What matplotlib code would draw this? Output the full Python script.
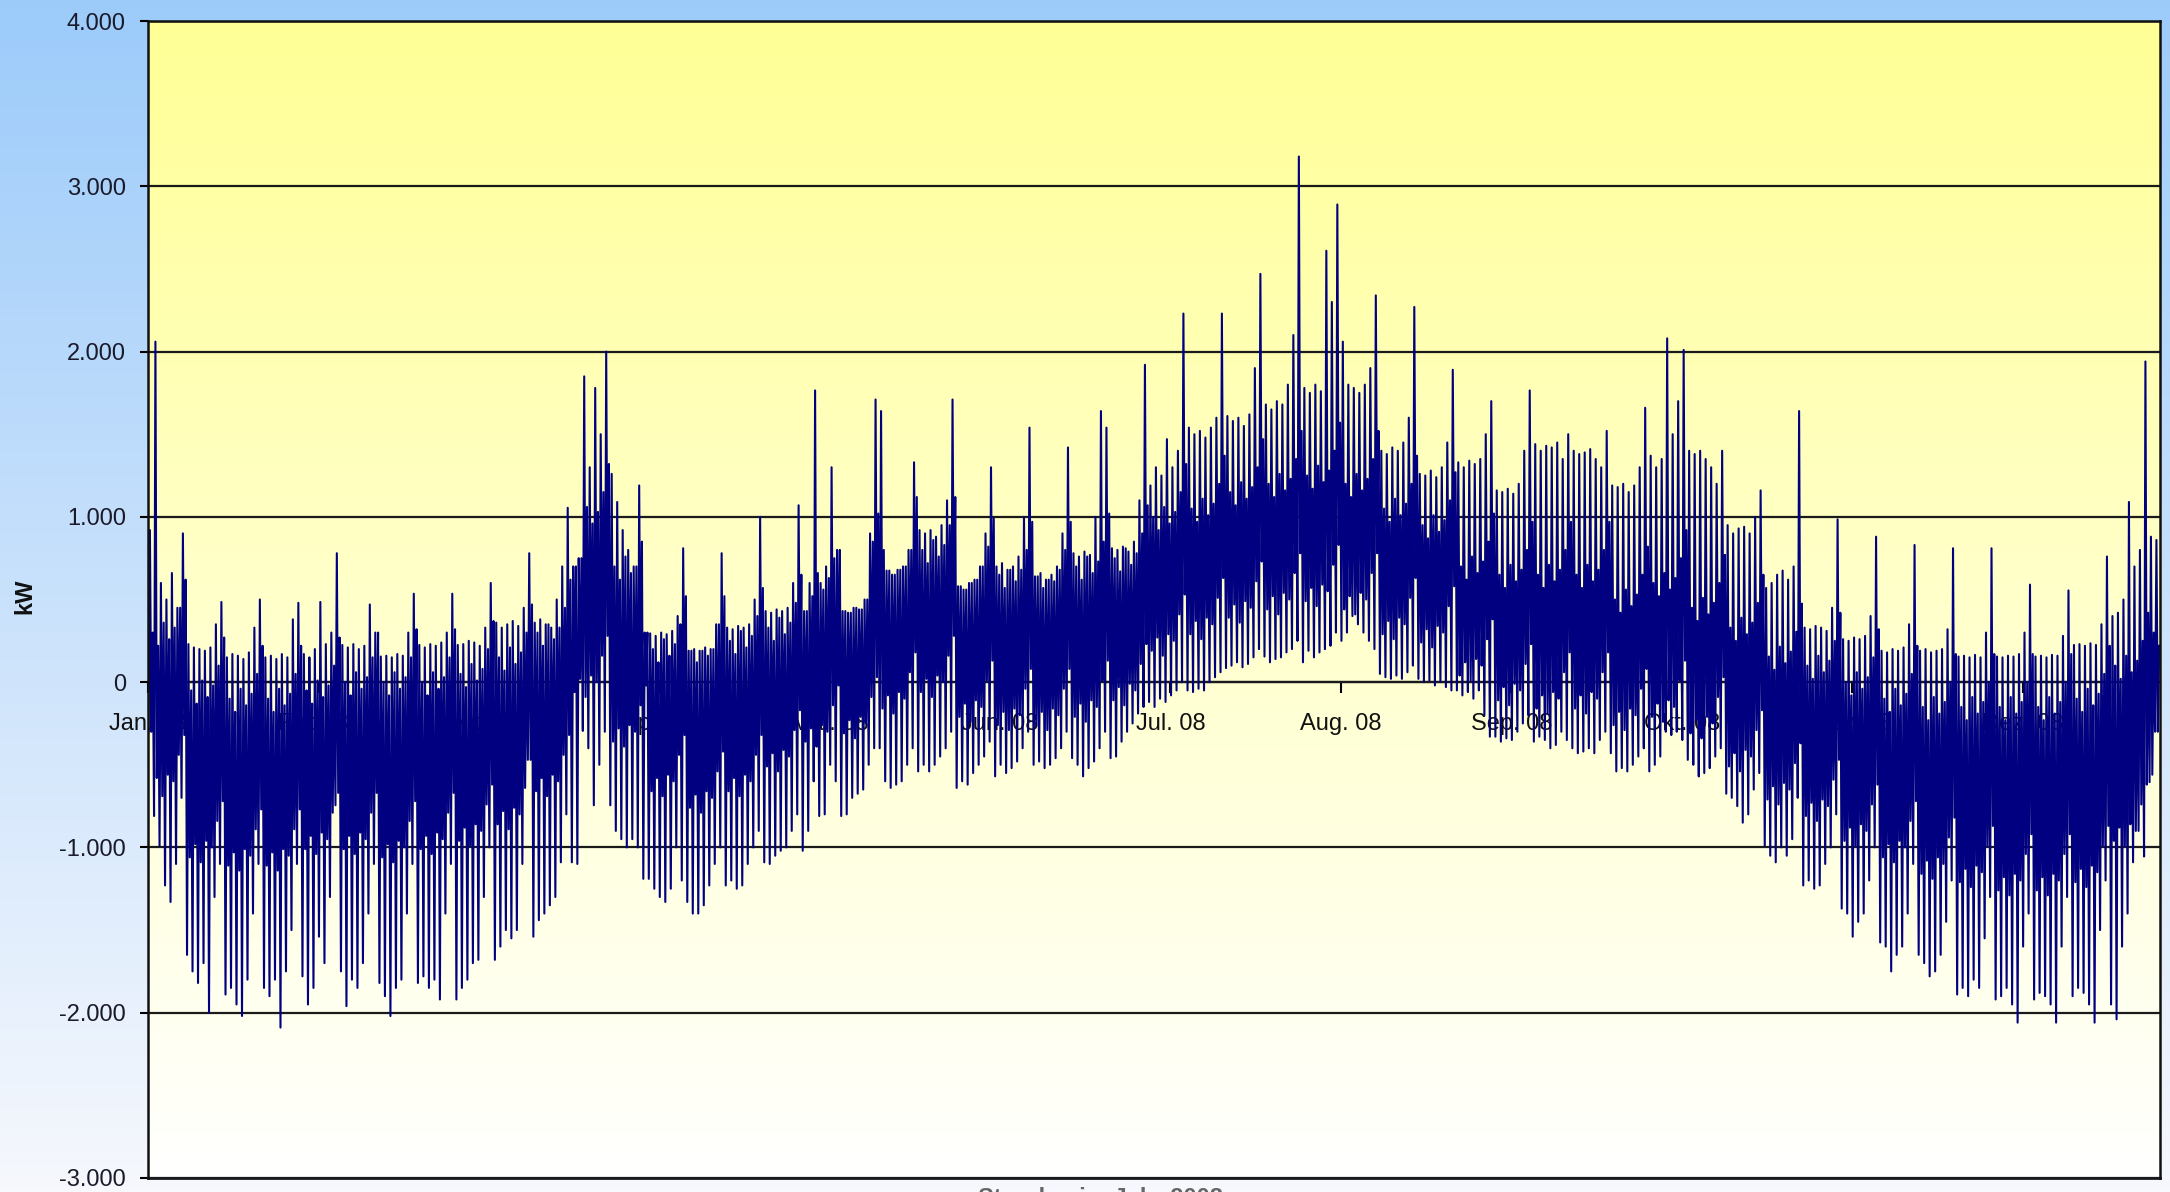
import numpy as np
import matplotlib
matplotlib.use("Agg")
import matplotlib.pyplot as plt
from matplotlib.ticker import FuncFormatter

plt.rcParams['font.family'] = ['Liberation Sans', 'DejaVu Sans']

# daily maximum (kW), one row per week, day 0 = 1 Jan 2008
daily_max = [
    920, 2060, 600, 500, 660, 450, 900,
    230, 210, 200, 190, 210, 350, 485,
    150, 170, 160, 140, 180, 330, 500,
    150, 160, 140, 170, 150, 380, 480,
    170, 150, 200, 485, 230, 300, 780,
    225, 210, 230, 200, 220, 470, 300,
    155, 160, 150, 170, 160, 300, 535,
    225, 210, 230, 220, 240, 300, 535,
    225, 230, 250, 240, 220, 330, 600,
    360, 330, 350, 370, 340, 450, 780,
    360, 380, 350, 330, 500, 700, 1055,
    700, 750, 1850, 1300, 1780, 1500, 2000,
    1260, 1090, 920, 800, 700, 1190, 300,
    295, 280, 300, 290, 310, 400, 810,
    190, 200, 190, 210, 200, 350, 780,
    330, 320, 340, 330, 350, 500, 1000,
    430, 420, 440, 430, 450, 600, 1070,
    430, 600, 1765, 600, 700, 1300, 800,
    430, 420, 450, 440, 500, 900, 1710,
    1640, 675, 650, 680, 700, 800, 1330,
    920, 900, 920, 880, 950, 1100, 1710,
    580, 560, 600, 620, 700, 900, 1300,
    700, 720, 680, 700, 760, 1000, 1540,
    640, 660, 620, 650, 700, 900, 1420,
    780, 760, 790, 770, 1000, 1640, 1540,
    810, 800, 820, 790, 850, 1100, 1920,
    1190, 1300, 1250, 1470, 1300, 1400, 2230,
    1540, 1500, 1520, 1480, 1540, 1600, 2230,
    1610, 1580, 1600, 1550, 1620, 1900, 2470,
    1680, 1650, 1700, 1680, 1800, 2100, 3180,
    1780, 1750, 1800, 1760, 2610, 2300, 2890,
    2060, 1800, 1780, 1750, 1800, 1900, 2340,
    1400, 1380, 1420, 1400, 1450, 1600, 2270,
    1260, 1250, 1280, 1240, 1300, 1450, 1890,
    1330, 1300, 1340, 1320, 1350, 1500, 1700,
    1160, 1150, 1170, 1140, 1200, 1400, 1765,
    1440, 1400, 1430, 1420, 1450, 1350, 1500,
    1400, 1380, 1390, 1410, 1350, 1300, 1520,
    1190, 1180, 1200, 1150, 1190, 1300, 1660,
    1370, 1300, 1350, 2080, 1500, 1700, 2010,
    1400, 1380, 1400, 1350, 1300, 1200, 1400,
    950, 900, 930, 940, 900, 1000, 1160,
    570, 600, 650, 675, 620, 700, 1640,
    330, 320, 340, 330, 310, 450, 985,
    260, 250, 270, 260, 280, 400, 880,
    190, 180, 200, 190, 210, 350, 830,
    190, 200, 180, 190, 200, 320, 810,
    155, 160, 150, 165, 150, 300, 810,
    155, 150, 160, 155, 170, 300, 590,
    155, 160, 150, 165, 160, 280, 555,
    225, 230, 220, 235, 225, 350, 760,
    400, 420, 500, 1090, 700, 800, 1940,
    880, 860,
]

# daily minimum (kW)
daily_min = [
    -300, -810, -990, -1230, -1330, -1100, -700,
    -1650, -1750, -1820, -1700, -2000, -1300, -1100,
    -1890, -1850, -1950, -2020, -1800, -1400, -1100,
    -1850, -1900, -1800, -2090, -1750, -1500, -1100,
    -1780, -1950, -1850, -1540, -1700, -1300, -745,
    -1750, -1960, -1800, -1850, -1700, -1400, -1100,
    -1820, -1900, -2020, -1850, -1800, -1400, -1100,
    -1820, -1780, -1850, -1800, -1920, -1400, -1100,
    -1920, -1850, -1800, -1700, -1680, -1300, -1000,
    -1680, -1600, -1500, -1550, -1500, -1100, -470,
    -1540, -1440, -1400, -1350, -1300, -1090, -800,
    -1090, -1100, -295, -400, -745, -500, -300,
    -745, -900, -950, -1000, -950, -1000, -1190,
    -1190, -1250, -1300, -1330, -1250, -1000, -1200,
    -1330, -1400, -1400, -1350, -1230, -1100, -1000,
    -1230, -1200, -1250, -1230, -1100, -1000, -900,
    -1090, -1100, -1050, -1020, -1000, -900, -800,
    -1020, -900, -600, -810, -800, -500, -600,
    -810, -800, -700, -675, -650, -500, -400,
    -400, -600, -640, -620, -600, -500, -400,
    -540, -500, -540, -500, -450, -400, -300,
    -640, -600, -620, -550, -500, -450, -360,
    -570, -500, -550, -520, -480, -400, -300,
    -500, -480, -520, -500, -460, -400, -300,
    -460, -500, -570, -520, -480, -400, -300,
    -460, -450, -360, -300, -250, -190, -150,
    -120, -150, -100, -120, -80, -50, 0,
    -50, -60, -40, -50, 0, 30, 60,
    85, 100, 120, 90, 110, 150, 200,
    155, 120, 140, 150, 180, 200, 250,
    120, 190, 150, 180, 200, 220, 300,
    250, 300, 400, 350, 300, 250, 200,
    50, 30, 20, 40, 20, 60, 100,
    20, 0, 10, -20, 0, -30, -50,
    -50, -80, -60, -100, -50, -200, -330,
    -330, -360, -340, -350, -300, -250, -200,
    -360, -330, -350, -400, -380, -300, -350,
    -400, -430, -420, -400, -430, -350, -300,
    -430, -540, -520, -540, -500, -450, -400,
    -540, -500, -450, -300, -320, -300, -350,
    -470, -500, -570, -550, -520, -450, -400,
    -675, -700, -750, -850, -800, -650, -550,
    -990, -1050, -1090, -1000, -1050, -950, -700,
    -1230, -1200, -1250, -1230, -1100, -1000, -800,
    -1370, -1400, -1540, -1450, -1400, -1200, -1000,
    -1575, -1600, -1750, -1650, -1600, -1400, -1100,
    -1650, -1700, -1780, -1750, -1650, -1450, -1200,
    -1890, -1850, -1900, -1800, -1850, -1550, -1300,
    -1920, -1900, -1850, -1950, -2060, -1600, -1400,
    -1920, -1880, -1900, -1950, -2060, -1600, -1300,
    -1900, -1850, -1880, -1950, -2060, -1500, -1200,
    -1950, -2040, -1600, -1400, -1090, -900, -1055,
    -605, -300,
]

# weekly range where most hourly values sit (dense dark band)
band_hi = [300, -50, -100, -100, -50, 0, 0, 0, 50, 150,
           300, 1000, 700, 200, 200, 250, 330, 600, 700, 800,
           800, 670, 650, 650, 700, 750, 1000, 1050, 1150, 1200,
           1250, 1200, 1050, 950, 700, 650, 650, 650, 500, 600,
           450, 330, 155, 100, 0, -100, -150, -150, -150, -150,
           -100, 100, 300]
band_lo = [-600, -1000, -1050, -1050, -950, -950, -1000, -950, -900, -800,
           -600, 0, -300, -600, -700, -600, -450, -300, -250, -100,
           0, -150, -200, -200, -150, -50, 250, 350, 450, 500,
           550, 500, 350, 300, 100, -50, -100, -100, -200, -150,
           -250, -450, -650, -750, -900, -1000, -1100, -1150, -1200, -1200,
           -1150, -900, -500]
# shift of the band over the days of a week (weekend lies higher)
weekday_hi = [0, -80, 60, -40, 30, 150, 320]
weekday_lo = [-60, 20, -90, 40, 0, 160, 280]

month_labels = ['Jan. 08', 'Feb. 08', 'Mrz. 08', 'Apr. 08', 'Mai. 08', 'Jun. 08',
                'Jul. 08', 'Aug. 08', 'Sep. 08', 'Okt. 08', 'Nov. 08', 'Dez. 08']

W, H = 2170, 1192
fig = plt.figure(figsize=(W / 100, H / 100), dpi=100)

# figure background: light blue fading to white
bg = fig.add_axes([0, 0, 1, 1])
top_c = np.array([156, 203, 250]) / 255
bot_c = np.array([246, 248, 253]) / 255
t = np.linspace(0, 1, 256)[:, None]
bg.imshow((top_c * (1 - t) + bot_c * t)[:, None, :], aspect='auto', extent=[0, 1, 0, 1])
bg.axis('off')

ax = fig.add_axes([148 / W, 1 - 1178 / H, (2160 - 148) / W, (1178 - 21) / H])
n = len(daily_max)
ax.set_xlim(0, n)
ax.set_ylim(-3000, 4000)

# plot area: yellow fading to white
y_top = np.array([255, 255, 150]) / 255
y_bot = np.array([255, 255, 255]) / 255
ax.imshow((y_top * (1 - t) + y_bot * t)[:, None, :], aspect='auto',
          extent=[0, n, -3000, 4000], zorder=0)

dmax = np.array(daily_max, dtype=float)
dmin = np.array(daily_min, dtype=float)
days = np.arange(n)
blo = np.repeat(band_lo, 7)[:n] + np.array(weekday_lo)[days % 7]
bhi = np.repeat(band_hi, 7)[:n] + np.array(weekday_hi)[days % 7]
blo = np.clip(blo, dmin, dmax)
bhi = np.clip(bhi, dmin, dmax)

xs = (days[:, None] + np.array([0.1, 0.35, 0.6, 0.85])).ravel()
ys = np.column_stack([dmin, dmax, blo, bhi]).ravel()
ax.plot(xs, ys, color='#000080', lw=1.5, zorder=2)

ax.set_axisbelow(True)
ax.yaxis.grid(True, color='#1a1a1a', lw=1.6)
ax.set_yticks(np.arange(-3000, 4001, 1000))
ax.yaxis.set_major_formatter(FuncFormatter(lambda v, p: f"{int(v):,}".replace(',', '.')))

ax.spines['bottom'].set_position(('data', 0))
ax.spines['bottom'].set_zorder(0.5)
ax.axhline(-3000, color='#1a1a1a', lw=2, clip_on=False, zorder=0.6)
for s in ['top', 'left', 'right']:
    ax.spines[s].set_linewidth(1.8)
    ax.spines[s].set_color('#111111')
ax.spines['bottom'].set_linewidth(1.6)

ax.set_xticks(np.arange(0, n, 31))
ax.set_xticklabels(month_labels)
ax.tick_params(axis='x', direction='out', length=8, width=1.5, pad=14,
               labelsize=17, labelcolor='#111111')
ax.tick_params(axis='y', direction='out', length=6, width=1.5, pad=10,
               labelsize=17, labelcolor='#1a1a2a')

fig.text(25 / W, 0.5, 'kW', rotation=90, ha='center', va='center',
         fontsize=17, fontweight='bold', color='#111111')
fig.text(1100 / W, 1 - 1187 / H, 'Stunden im Jahr 2008', ha='center', va='top',
         fontsize=17, fontweight='bold', color='#666666')

fig.savefig('out.png', dpi=100)
